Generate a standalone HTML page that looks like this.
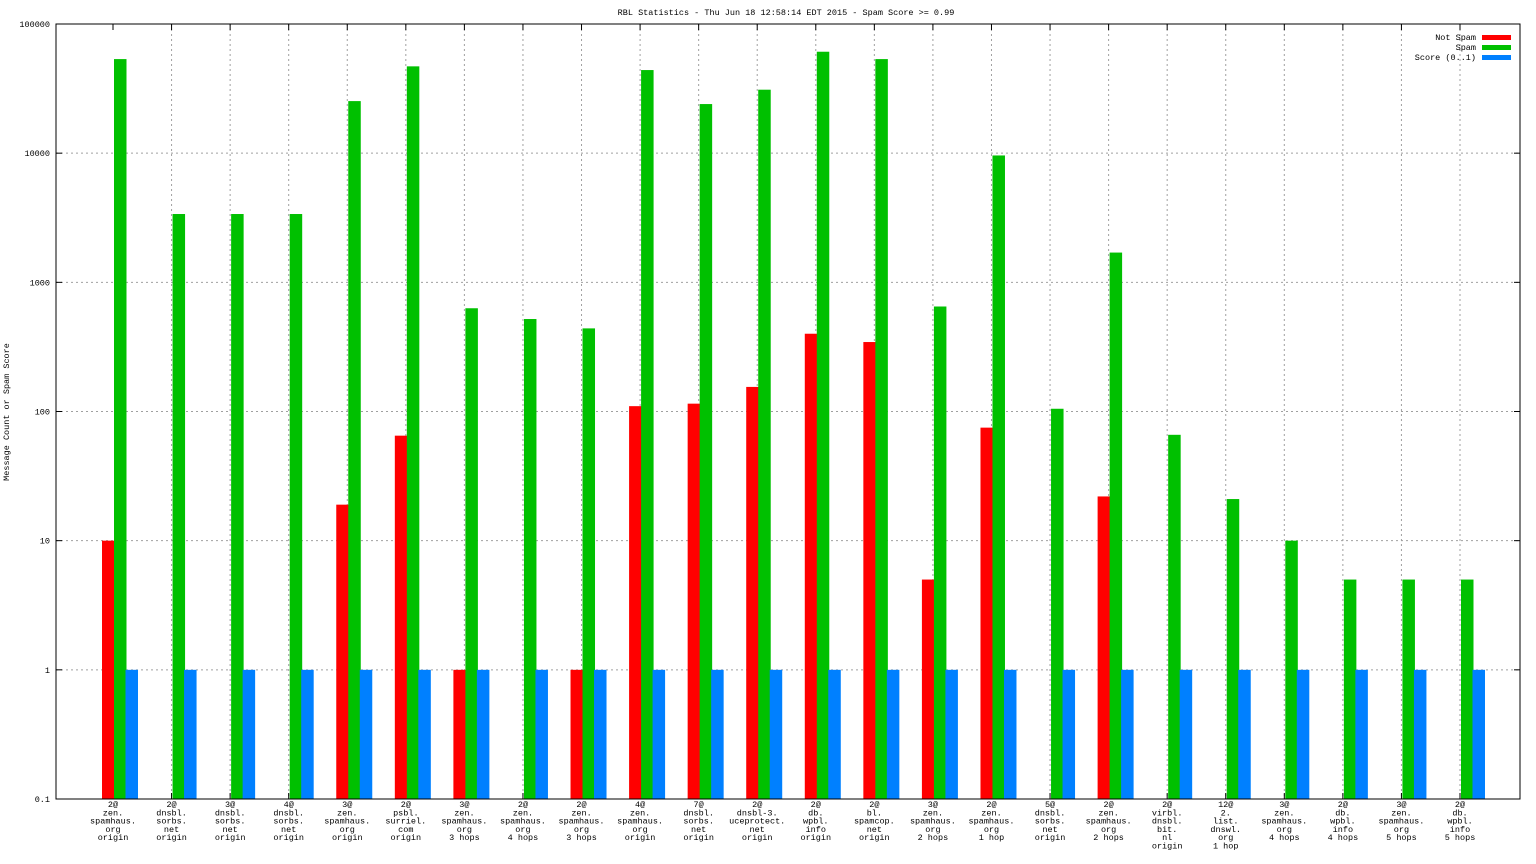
<!DOCTYPE html>
<html><head><meta charset="utf-8"><style>
body{margin:0;background:#fff}
svg{display:block;font-family:"Liberation Mono",monospace;font-size:8.5px}
</style></head><body>
<svg id="c" width="1536" height="864"></svg>
<script>
const categories=[
["2@","zen.","spamhaus.","org","origin"],["2@","dnsbl.","sorbs.","net","origin"],["3@","dnsbl.","sorbs.","net","origin"],["4@","dnsbl.","sorbs.","net","origin"],
["3@","zen.","spamhaus.","org","origin"],["2@","psbl.","surriel.","com","origin"],["3@","zen.","spamhaus.","org","3 hops"],["2@","zen.","spamhaus.","org","4 hops"],
["2@","zen.","spamhaus.","org","3 hops"],["4@","zen.","spamhaus.","org","origin"],["7@","dnsbl.","sorbs.","net","origin"],["2@","dnsbl-3.","uceprotect.","net","origin"],
["2@","db.","wpbl.","info","origin"],["2@","bl.","spamcop.","net","origin"],["3@","zen.","spamhaus.","org","2 hops"],["2@","zen.","spamhaus.","org","1 hop"],
["5@","dnsbl.","sorbs.","net","origin"],["2@","zen.","spamhaus.","org","2 hops"],["2@","virbl.","dnsbl.","bit.","nl","origin"],["12@","2.","list.","dnswl.","org","1 hop"],
["3@","zen.","spamhaus.","org","4 hops"],["2@","db.","wpbl.","info","4 hops"],["3@","zen.","spamhaus.","org","5 hops"],["2@","db.","wpbl.","info","5 hops"]];
const notSpam=[10,0,0,0,19,65,1,0,1,110,115,155,400,345,5,75,0,22,0,0,0,0,0,0];
const spam=[53500,3380,3380,3380,25300,47000,630,520,440,44000,24000,31000,61000,53500,650,9600,105,1700,66,21,10,5,5,5];
const score=[1,1,1,1,1,1,1,1,1,1,1,1,1,1,1,1,1,1,1,1,1,1,1,1];
const yTicks=[0.1,1,10,100,1000,10000,100000];
const yTickLabels=["0.1","1","10","100","1000","10000","100000"];

const svg=document.getElementById('c');const NS="http://www.w3.org/2000/svg";
const L=56,R=1520,T=24,B=799;
function y(v){return B-(Math.log10(v)+1)/6*(B-T);}
function xc(i){return 113+i*(1460-113)/23;}
function el(tag,a,p){const e=document.createElementNS(NS,tag);for(const k in a)e.setAttribute(k,a[k]);(p||svg).appendChild(e);return e;}
// grid
yTicks.forEach((v,i)=>{const yy=y(v);
 if(i>0&&i<6){const g=el('line',{x1:L,x2:R,y1:yy,y2:yy,stroke:'#a0a0a0','stroke-dasharray':'2,3'});
 
 }
 el('line',{x1:L,x2:L+6,y1:yy,y2:yy,stroke:'#000'});el('line',{x1:R-6,x2:R,y1:yy,y2:yy,stroke:'#000'});
 const t=el('text',{x:L-6,y:yy+3,'text-anchor':'end'});t.textContent=yTickLabels[i];
 
 
});
categories.forEach((c,i)=>{const x=xc(i);
 if(i>0){const g=el('line',{x1:x,x2:x,y1:T,y2:B,stroke:'#a0a0a0','stroke-dasharray':'2,3'});
 
 }
 el('line',{x1:x,x2:x,y1:B,y2:B-6,stroke:'#000'});el('line',{x1:x,x2:x,y1:T,y2:T+6,stroke:'#000'});
 const t=el('text',{x:x,y:807,'text-anchor':'middle'});
 
 
 c.forEach((s,j)=>{const ts=el('tspan',{x:x,dy:j?8.3:0},t);ts.textContent=s;});
});
const series=[[notSpam,'#ff0000',-11,'bar-not-spam'],[spam,'#00c000',1,'bar-spam'],[score,'#0080ff',12.5,'bar-score']];
series.forEach(([arr,col,off,nm])=>{arr.forEach((v,i)=>{if(v<=0)return;const x=xc(i)+off,top=y(v);
 const r=el('rect',{x:x,y:top,width:12.5,height:B-top,fill:col});
 
 });});
el('rect',{x:L,y:T,width:R-L,height:B-T,fill:'none',stroke:'#000'});
const ti=el('text',{x:786,y:15,'text-anchor':'middle'});ti.textContent="RBL Statistics - Thu Jun 18 12:58:14 EDT 2015 - Spam Score >= 0.99";


const yl=el('text',{x:0,y:0,'text-anchor':'middle',transform:'translate(9,412) rotate(-90)'});yl.textContent="Message Count or Spam Score";


[["Not Spam","#ff0000"],["Spam","#00c000"],["Score (0..1)","#0080ff"]].forEach(([n,c],i)=>{const yy=37+i*10;
 const t=el('text',{x:1476,y:yy+3,'text-anchor':'end'});t.textContent=n;
 
 
 el('rect',{x:1482,y:yy-2,width:29,height:5,fill:c});});
</script>
</body></html>
